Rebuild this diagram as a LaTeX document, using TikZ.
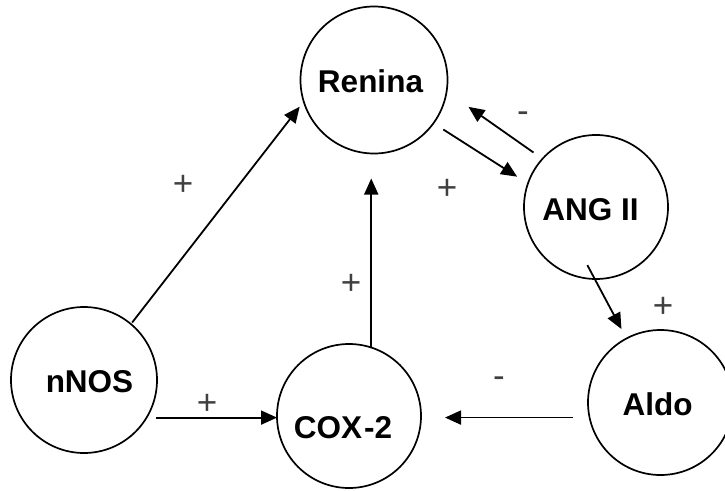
\documentclass[tikz,border=0pt]{standalone}
\usepackage{fontspec}
\setmainfont{Liberation Sans}
\usetikzlibrary{arrows.meta}
\tikzset{
  bubble/.style={circle, draw=black, line width=1.7pt, inner sep=0pt, outer sep=0pt, minimum size=#1},
  title/.style={anchor=base, inner sep=0pt, font=\fontsize{31.5}{31.5}\selectfont\bfseries},
  signlbl/.style={anchor=base, inner sep=0pt, text=black!75, font=\fontsize{35}{35}\selectfont},
  conn/.style={draw=black, line width=1.8pt, -{Triangle[length=16pt,width=14pt]}},
}
\begin{document}
\begin{tikzpicture}[x=1pt,y=-1pt]
\useasboundingbox (0,0) rectangle (725,490);

% circles
\node[bubble=147] (renina) at (374,80) {};
\node[bubble=144] (ang)    at (596,207) {};
\node[bubble=145] (aldo)   at (660.5,402.5) {};
\node[bubble=146] (nnos)   at (84,380) {};
\node[bubble=144] (cox)    at (349,416) {};

% names inside the circles
\node[title] (reninaT) at (370.5,92)  {Renina};
\node[title] (angT)    at (590.5,220) {ANG II};
\node[title] (aldoT)   at (657.5,415) {Aldo};
\node[title] (nnosT)   at (89.5,392)  {nNOS};
\node[title] (coxT)    at (343,438)   {COX\kern2pt-2};

% connectors
\draw[conn, shorten <=2pt, shorten >=6.6pt] (nnos.50.3) -- (renina.197.3);
\draw[conn, shorten >=25pt] (cox.72) -- (cox.72 |- renina.south);
\draw[conn, shorten <=11.7pt, shorten >=12.8pt] (renina.324.2) -- (ang.161.3);
\draw[conn, shorten <=11pt, shorten >=26.7pt] (ang.138.7) -- (renina.351.8);
\draw[conn, shorten <=-15.7pt, shorten >=10.7pt] (ang.269.3) -- (aldo.118.3);
\draw[conn, shorten <=16.6pt, shorten >=24pt] (aldo.192) -- (aldo.192 -| cox.east);
\draw[conn, shorten <=9pt] (nnos.329.5) -- (nnos.329.5 -| cox.west);

% signs of the effects
\node[signlbl] (s1) at (183,195.5) {+};
\node[signlbl] (s2) at (351,294.5) {+};
\node[signlbl] (s3) at (447,199.5) {+};
\node[signlbl] (s4) at (663,317.5) {+};
\node[signlbl] (s5) at (207,414.5) {+};
\node[signlbl] (s6) at (523,122.6) {-};
\node[signlbl] (s7) at (499,387.6) {-};
\end{tikzpicture}
\end{document}
